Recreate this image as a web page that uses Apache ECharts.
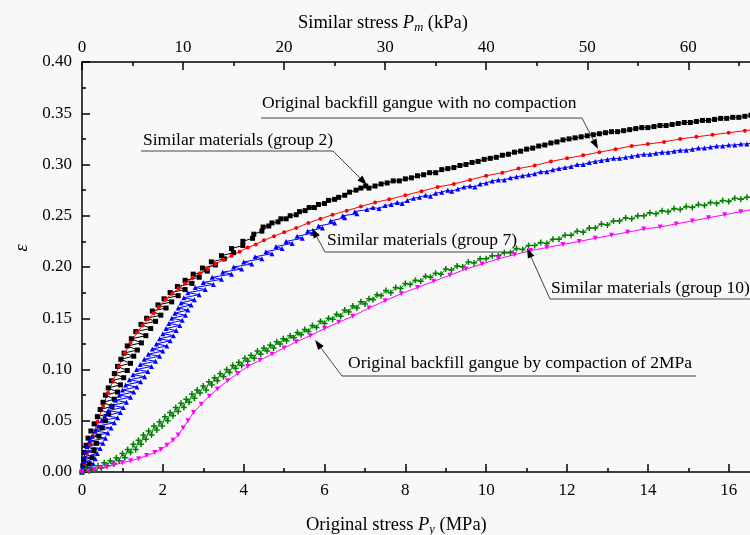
<!DOCTYPE html>
<html><head><meta charset="utf-8">
<script src="https://cdn.jsdelivr.net/npm/echarts@6/dist/echarts.min.js"></script>
<style>html,body{margin:0;padding:0;background:#f8f8f8}#c{width:750px;height:535px}</style>
</head><body><div id="c"></div>
<script>
const FONT = '"Liberation Serif", "Times New Roman", serif';

// Similar materials (group 2) — black squares
const group2 = [[0.00,0.000],[0.10,0.003],[0.02,0.006],[0.18,0.008],[0.04,0.012],[0.25,0.014],[0.06,0.019],[0.30,0.021],[0.10,0.026],[0.36,0.028],[0.15,0.033],[0.42,0.035],[0.22,0.040],[0.50,0.043],[0.30,0.047],[0.58,0.050],[0.38,0.054],[0.66,0.057],[0.45,0.061],[0.74,0.064],[0.52,0.068],[0.80,0.071],[0.58,0.075],[0.88,0.078],[0.65,0.082],[0.95,0.085],[0.73,0.089],[1.03,0.092],[0.80,0.096],[1.12,0.099],[0.88,0.103],[1.20,0.106],[0.96,0.110],[1.28,0.113],[1.04,0.116],[1.37,0.119],[1.12,0.123],[1.47,0.126],[1.22,0.130],[1.58,0.133],[1.33,0.137],[1.70,0.140],[1.46,0.144],[1.82,0.147],[1.60,0.150],[1.95,0.153],[1.74,0.157],[2.08,0.160],[1.88,0.163],[2.22,0.166],[2.03,0.169],[2.38,0.172],[2.18,0.175],[2.55,0.178],[2.36,0.181],[2.72,0.184],[2.55,0.187],[2.90,0.190],[2.75,0.193],[3.10,0.196],[2.98,0.199],[3.30,0.202],[3.20,0.205],[3.52,0.208],[3.45,0.211],[3.75,0.214],[3.70,0.218],[3.98,0.221],[3.98,0.225],[4.22,0.228],[4.25,0.232],[4.45,0.235],[4.48,0.239],
[4.62,0.240],[4.70,0.243],[4.85,0.244],[4.92,0.247],[5.05,0.247],[5.15,0.250],[5.30,0.251],[5.38,0.254],[5.52,0.255],[5.62,0.258],[5.75,0.258],[5.85,0.261],[6.00,0.262],[6.10,0.265],[6.25,0.266],[6.35,0.268],[6.50,0.270],[6.62,0.273],[6.78,0.275],[6.90,0.277],[7.02,0.279],[7.10,0.277],[7.25,0.279],[7.40,0.281],[7.55,0.282],[7.70,0.284],[7.85,0.284],[8.00,0.286],[8.15,0.287],[8.30,0.289],[8.45,0.290],[8.60,0.292],[8.75,0.292],[8.90,0.295],[9.05,0.296],[9.20,0.297],[9.35,0.299],[9.50,0.300],[9.65,0.302],[9.80,0.303],[9.95,0.305],[10.10,0.306],[10.25,0.307],[10.40,0.309],[10.55,0.310],[10.70,0.312],[10.85,0.313],[11.00,0.315],[11.15,0.316],[11.30,0.318],[11.45,0.319],[11.60,0.321],[11.75,0.322],[11.90,0.324],[12.05,0.325],[12.20,0.326],[12.35,0.327],[12.50,0.328],[12.65,0.329],[12.80,0.330],[12.95,0.331],[13.10,0.332],[13.25,0.332],[13.40,0.333],[13.55,0.334],[13.70,0.335],[13.85,0.336],[14.00,0.336],[14.15,0.337],[14.30,0.338],[14.45,0.338],[14.60,0.339],[14.75,0.340],[14.90,0.341],[15.05,0.341],[15.20,0.342],[15.35,0.343],[15.50,0.343],[15.65,0.344],[15.80,0.345],[15.95,0.345],[16.10,0.346],[16.25,0.346],[16.40,0.347],[16.55,0.348],[16.70,0.348]];

// Original backfill gangue with no compaction — red circles
const noCompaction = [[0,0.000],[0.06,0.008],[0.12,0.018],[0.20,0.027],[0.27,0.035],[0.38,0.049],[0.52,0.064],[0.64,0.077],[0.77,0.089],[0.91,0.103],[1.06,0.116],[1.20,0.126],[1.36,0.136],[1.50,0.143],[1.63,0.149],[1.77,0.155],[1.90,0.161],[2.06,0.168],[2.23,0.174],[2.39,0.179],[2.55,0.184],[2.73,0.189],[2.92,0.194],[3.10,0.198],[3.30,0.203],[3.50,0.207],[3.70,0.211],[3.90,0.215],[4.10,0.219],[4.30,0.222],[4.50,0.226],[4.75,0.230],[5.00,0.234],[5.30,0.238],[5.60,0.243],[5.90,0.247],[6.20,0.251],[6.55,0.255],[6.90,0.259],[7.25,0.263],[7.60,0.266],[8.00,0.270],[8.40,0.274],[8.80,0.278],[9.20,0.281],[9.60,0.285],[10.00,0.289],[10.40,0.292],[10.80,0.296],[11.20,0.299],[11.60,0.303],[12.00,0.306],[12.40,0.309],[12.80,0.312],[13.20,0.315],[13.60,0.318],[14.00,0.320],[14.40,0.322],[14.80,0.325],[15.20,0.327],[15.60,0.329],[16.00,0.331],[16.40,0.333],[16.80,0.335]];

// Similar materials (group 7) — blue triangles
const group7 = [[0.00,0.000],[0.20,0.004],[0.02,0.005],[0.28,0.008],[0.04,0.010],[0.33,0.013],[0.06,0.015],[0.38,0.018],[0.08,0.020],[0.45,0.023],[0.12,0.025],[0.52,0.028],[0.18,0.030],[0.58,0.033],[0.25,0.035],[0.64,0.038],[0.33,0.040],[0.72,0.043],[0.40,0.045],[0.80,0.048],[0.48,0.050],[0.88,0.053],[0.56,0.055],[0.95,0.058],[0.65,0.060],[1.02,0.063],[0.73,0.065],[1.10,0.068],[0.83,0.070],[1.20,0.073],[0.92,0.075],[1.28,0.078],[1.00,0.080],[1.36,0.083],[1.08,0.085],[1.45,0.088],[1.17,0.090],[1.55,0.093],[1.26,0.095],[1.63,0.098],[1.35,0.100],[1.72,0.103],[1.44,0.105],[1.82,0.108],[1.54,0.110],[1.92,0.113],[1.64,0.115],[2.00,0.118],[1.74,0.120],[2.10,0.123],[1.84,0.125],[2.18,0.128],[1.92,0.130],[2.26,0.133],[2.00,0.135],[2.33,0.138],[2.08,0.140],[2.42,0.143],[2.15,0.145],[2.48,0.148],[2.22,0.150],[2.56,0.153],[2.30,0.155],[2.62,0.158],[2.38,0.160],[2.70,0.163],[2.45,0.165],[2.78,0.168],[2.52,0.170],[2.90,0.173],[2.62,0.175],[3.05,0.178],[2.80,0.180],[3.25,0.183],[3.00,0.185],[3.45,0.188],[3.22,0.190],[3.70,0.193],[3.48,0.195],[3.95,0.198],[3.75,0.200],[4.20,0.203],[4.00,0.205],[4.45,0.208],[4.28,0.210],[4.70,0.213],[4.55,0.215],[4.95,0.218],[4.80,0.220],[5.20,0.223],[5.05,0.225],[5.45,0.228],[5.32,0.230],[5.70,0.233],[5.58,0.235],[5.95,0.238],[5.85,0.240],[6.25,0.243],[6.15,0.245],[6.50,0.248],[6.45,0.250],[6.80,0.252],[6.75,0.254],
[7.05,0.256],[7.20,0.258],[7.35,0.257],[7.50,0.260],[7.65,0.261],[7.80,0.263],[7.92,0.262],[8.05,0.265],[8.20,0.267],[8.35,0.268],[8.50,0.270],[8.62,0.269],[8.75,0.272],[8.90,0.273],[9.05,0.275],[9.15,0.274],[9.30,0.276],[9.45,0.278],[9.60,0.279],[9.72,0.278],[9.85,0.281],[10.00,0.282],[10.15,0.284],[10.30,0.285],[10.45,0.285],[10.60,0.287],[10.75,0.288],[10.90,0.289],[11.05,0.290],[11.20,0.291],[11.35,0.293],[11.50,0.293],[11.65,0.295],[11.80,0.296],[11.95,0.297],[12.10,0.298],[12.25,0.300],[12.40,0.300],[12.55,0.302],[12.70,0.303],[12.85,0.304],[13.00,0.305],[13.15,0.306],[13.30,0.306],[13.45,0.307],[13.60,0.308],[13.75,0.309],[13.90,0.310],[14.05,0.310],[14.20,0.311],[14.35,0.312],[14.50,0.312],[14.65,0.313],[14.80,0.314],[14.95,0.314],[15.10,0.315],[15.25,0.316],[15.40,0.316],[15.55,0.317],[15.70,0.318],[15.85,0.318],[16.00,0.319],[16.15,0.319],[16.30,0.320],[16.45,0.320],[16.60,0.321]];

// Similar materials (group 10) — green crosses
const group10 = [[0.00,0.000],[0.10,0.003],[0.18,0.001],[0.25,0.004],[0.32,0.002],[0.40,0.006],[0.48,0.004],[0.55,0.009],[0.62,0.006],[0.70,0.011],[0.78,0.008],[0.85,0.014],[0.92,0.011],[1.00,0.018],[1.06,0.014],[1.13,0.022],[1.20,0.019],[1.27,0.027],[1.33,0.022],[1.40,0.031],[1.46,0.027],[1.52,0.036],[1.58,0.032],[1.65,0.040],[1.72,0.036],[1.78,0.045],[1.85,0.041],[1.92,0.049],[1.98,0.045],[2.05,0.054],[2.12,0.050],[2.18,0.058],[2.25,0.055],[2.32,0.063],[2.38,0.059],[2.45,0.067],[2.52,0.063],[2.58,0.071],[2.65,0.068],[2.72,0.076],[2.78,0.072],[2.85,0.080],[2.92,0.077],[3.00,0.084],[3.07,0.080],[3.14,0.088],[3.21,0.085],[3.28,0.092],[3.35,0.089],[3.42,0.096],[3.50,0.093],[3.58,0.100],[3.65,0.097],[3.73,0.104],[3.80,0.101],[3.88,0.107],[3.95,0.104],[4.03,0.111],[4.10,0.108],[4.18,0.114],[4.26,0.111],[4.34,0.118],[4.42,0.115],[4.50,0.121],[4.58,0.118],[4.66,0.124],[4.74,0.121],[4.82,0.127],[4.90,0.125],[4.98,0.130],[5.06,0.128],[5.15,0.133],[5.24,0.131],[5.33,0.136],[5.42,0.134],[5.51,0.139],[5.60,0.137],[5.70,0.143],[5.80,0.141],[5.90,0.147],[6.00,0.145],[6.10,0.150],[6.20,0.149],[6.30,0.154],[6.40,0.152],[6.50,0.158],[6.60,0.156],[6.70,0.162],[6.80,0.160],[6.90,0.166],[7.00,0.164],[7.10,0.169],[7.20,0.168],[7.30,0.173],[7.40,0.172],[7.52,0.177],[7.64,0.175],[7.76,0.180],[7.88,0.179],[8.00,0.184],[8.12,0.183],[8.25,0.187],[8.38,0.186],[8.50,0.191],[8.62,0.190],[8.75,0.194],[8.88,0.193],[9.00,0.198],[9.14,0.197],[9.28,0.201],[9.42,0.200],[9.56,0.205],[9.70,0.204],[9.85,0.208],[10.00,0.208],[10.15,0.211],[10.30,0.211],[10.45,0.214],[10.60,0.214],[10.75,0.218],[10.90,0.217],[11.05,0.221],[11.20,0.221],[11.35,0.224],[11.50,0.223],[11.65,0.227],[11.80,0.227],[11.95,0.231],[12.10,0.231],[12.25,0.235],[12.40,0.234],[12.55,0.238],[12.70,0.238],[12.85,0.242],[13.00,0.241],[13.15,0.245],[13.30,0.245],[13.45,0.248],[13.60,0.247],[13.75,0.250],[13.90,0.250],[14.05,0.253],[14.20,0.252],[14.35,0.255],[14.50,0.254],[14.65,0.257],[14.80,0.256],[14.95,0.259],[15.10,0.258],[15.25,0.261],[15.40,0.260],[15.55,0.263],[15.70,0.262],[15.85,0.265],[16.00,0.264],[16.15,0.267],[16.30,0.266],[16.45,0.268],[16.60,0.268]];

// Original backfill gangue by compaction of 2MPa — magenta down-triangles
const compacted2MPa = [[0.00,0.000],[0.15,0.001],[0.30,0.002],[0.45,0.004],[0.60,0.005],[0.80,0.007],[1.00,0.009],[1.20,0.011],[1.40,0.013],[1.60,0.016],[1.80,0.019],[1.95,0.022],[2.10,0.026],[2.25,0.031],[2.38,0.036],[2.50,0.043],[2.62,0.050],[2.76,0.058],[2.95,0.066],[3.15,0.074],[3.35,0.081],[3.60,0.089],[3.85,0.096],[4.10,0.103],[4.40,0.109],[4.70,0.115],[5.00,0.121],[5.30,0.127],[5.65,0.133],[6.00,0.140],[6.35,0.146],[6.70,0.152],[7.10,0.160],[7.50,0.167],[7.90,0.174],[8.30,0.180],[8.70,0.186],[9.10,0.192],[9.50,0.198],[9.90,0.203],[10.30,0.208],[10.70,0.212],[11.10,0.216],[11.50,0.219],[11.90,0.222],[12.30,0.225],[12.70,0.228],[13.10,0.231],[13.50,0.234],[13.90,0.237],[14.30,0.239],[14.70,0.242],[15.10,0.245],[15.50,0.248],[15.90,0.251],[16.30,0.254],[16.70,0.257]];

const xTitle = 'Original stress {i|P}{s|y} (MPa)';
const x2Title = 'Similar stress {i|P}{s|m} (kPa)';
const yTitle = 'ε';

const notes = [
  {text:'Original backfill gangue with no compaction', x:262, y:103, ul:[261,582,118], from:[582,118], tip:[598,149]},
  {text:'Similar materials (group 2)', x:143, y:140, ul:[141,333,151], from:[333,151], tip:[367,185]},
  {text:'Similar materials (group 7)', x:327, y:240, ul:[325,514,252], from:[325,252], tip:[312,228]},
  {text:'Similar materials (group 10)', x:551, y:288, ul:[550,750,299], from:[550,299], tip:[527,248]},
  {text:'Original backfill gangue by compaction of 2MPa', x:348, y:363, ul:[342,696,376], from:[342,376], tip:[315,340]}
];

const chart = echarts.init(document.getElementById('c'), null, {renderer:'canvas'});
const PX = 40.42;
const grid = {left:82, top:62, width:18*PX, height:410, containLabel:false, outerBoundsMode:'none'};

function axisCommon(){
  return {
    axisLine:{show:true, onZero:false, lineStyle:{color:'#000', width:1.5}},
    axisTick:{show:true, inside:true, length:8, lineStyle:{color:'#000', width:1.5}},
    minorTick:{show:true, splitNumber:2, length:4, lineStyle:{color:'#000', width:1.5}},
    splitLine:{show:false}, minorSplitLine:{show:false}
  };
}

const graphics = [];
const rich = {
  i:{fontStyle:'italic', fontSize:18.5, fontFamily:FONT, fill:'#000', color:'#000'},
  s:{fontStyle:'italic', fontSize:12.5, fontFamily:FONT, fill:'#000', color:'#000', verticalAlign:'bottom', lineHeight:23}
};
graphics.push({type:'text', x:298, y:23, style:{text:x2Title, fontSize:18.5, fontFamily:FONT, fill:'#000', rich:rich, verticalAlign:'middle', align:'left', lineHeight:23}});
graphics.push({type:'text', x:306, y:525, style:{text:xTitle, fontSize:18.5, fontFamily:FONT, fill:'#000', rich:rich, verticalAlign:'middle', align:'left', lineHeight:23}});
graphics.push({type:'text', x:22, y:248, rotation:Math.PI/2, style:{text:yTitle, fontSize:18, fontStyle:'italic', fontFamily:FONT, fill:'#000', align:'center', verticalAlign:'middle'}});

notes.forEach(n=>{
  graphics.push({type:'text', x:n.x, y:n.y, z:100, style:{text:n.text, fontSize:17.5, fontFamily:FONT, fill:'#000', align:'left', verticalAlign:'middle'}});
  graphics.push({type:'line', z:100, shape:{x1:n.ul[0], y1:n.ul[2], x2:n.ul[1], y2:n.ul[2]}, style:{stroke:'#444', lineWidth:1}});
  const dx=n.tip[0]-n.from[0], dy=n.tip[1]-n.from[1], L=Math.hypot(dx,dy), ux=dx/L, uy=dy/L;
  const len=10, hw=3.5, bx=n.tip[0]-ux*len, by=n.tip[1]-uy*len;
  graphics.push({type:'line', z:100, shape:{x1:n.from[0], y1:n.from[1], x2:bx, y2:by}, style:{stroke:'#444', lineWidth:1}});
  graphics.push({type:'polygon', z:100, shape:{points:[[n.tip[0],n.tip[1]],[bx-uy*hw,by+ux*hw],[bx+uy*hw,by-ux*hw]]}, style:{fill:'#000'}});
});

function ser(name, data, color, symbol, size, extra){
  return Object.assign({
    name, type:'line', data, xAxisIndex:0, yAxisIndex:0,
    symbol, symbolSize:size, showAllSymbol:true, showSymbol:true,
    lineStyle:{color, width:1}, itemStyle:{color, borderWidth:0},
    animation:false, clip:true, silent:true
  }, extra||{});
}

chart.setOption({
  backgroundColor:'#f8f8f8',
  animation:false,
  textStyle:{fontFamily:FONT},
  grid:grid,
  xAxis:[
    Object.assign(axisCommon(), {type:'value', position:'bottom', min:0, max:18, interval:2,
      axisLabel:{color:'#000', fontSize:17, fontFamily:FONT, margin:10, formatter:v=> v>16.6?'':String(v)}}),
    Object.assign(axisCommon(), {type:'value', position:'top', min:0, max:72, interval:10,
      axisLabel:{color:'#000', fontSize:17, fontFamily:FONT, margin:6, formatter:v=> v>66?'':String(v)}})
  ],
  yAxis:[
    Object.assign(axisCommon(), {type:'value', min:0, max:0.4, interval:0.05,
      axisLabel:{color:'#000', fontSize:17, fontFamily:FONT, margin:10, formatter:v=>v.toFixed(2)}})
  ],
  series:[
    ser('Similar materials (group 2)', group2, '#000000', 'rect', 5),
    ser('Original backfill gangue with no compaction', noCompaction, '#ff0000', 'circle', 4),
    ser('Similar materials (group 7)', group7, '#0000ff', 'triangle', 5),
    ser('Similar materials (group 10)', group10, '#008000', 'path://M3,0H5V3H8V5H5V8H3V5H0V3H3Z', 6),
    ser('Original backfill gangue by compaction of 2MPa', compacted2MPa, '#ff00ff', 'triangle', 5, {symbolRotate:180})
  ],
  graphic:graphics
});
</script></body></html>
